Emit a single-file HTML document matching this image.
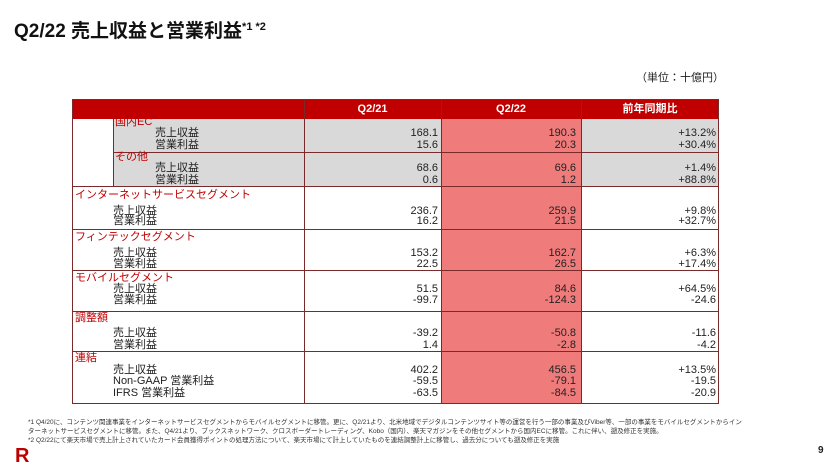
<!DOCTYPE html>
<html><head><meta charset="utf-8"><style>
body{margin:0;width:837px;height:471px;background:#fff;position:relative;overflow:hidden;font-family:"Liberation Sans","Noto Sans CJK JP",sans-serif;color:#222}
.a{position:absolute;white-space:nowrap}
.t{font-size:11px;line-height:12px}
.r{text-align:right}
.red{color:#c00000}
.b{position:absolute;box-sizing:border-box}
.h{color:#fff;font-weight:bold;font-size:11px;line-height:12px;text-align:center;top:103px}
</style></head><body>
<div class="a" style="left:14px;top:16px;font-size:19px;font-weight:bold;color:#111">Q2/22 売上収益と営業利益<span style="font-size:11px;vertical-align:7px">*1 *2</span></div>
<div class="a" style="left:636px;top:69px;font-size:11px">（単位：十億円）</div>

<div class="b" style="left:441px;top:119px;width:140px;height:284px;background:#f07b7b"></div>
<div class="b" style="left:113px;top:119px;width:328px;height:67px;background:#d9d9d9"></div>
<div class="b" style="left:581px;top:119px;width:138px;height:67px;background:#d9d9d9"></div>
<div class="b" style="left:72px;top:99px;width:647px;height:20px;background:#c00000"></div>
<div class="a h" style="left:304px;width:137px">Q2/21</div>
<div class="a h" style="left:441px;width:140px">Q2/22</div>
<div class="a h" style="left:581px;width:138px">前年同期比</div>
<div class="b" style="left:72px;top:99px;width:647px;height:305px;border:1px solid #7a2a2a"></div>
<div class="b" style="left:304px;top:99px;width:1px;height:305px;background:#7a2a2a"></div>
<div class="b" style="left:441px;top:99px;width:1px;height:305px;background:#7a2a2a"></div>
<div class="b" style="left:581px;top:99px;width:1px;height:305px;background:#7a2a2a"></div>
<div class="b" style="left:113px;top:119px;width:1px;height:67px;background:#7a2a2a"></div>
<div class="b" style="left:113px;top:152px;width:606px;height:1px;background:#7a2a2a"></div>
<div class="b" style="left:72px;top:186px;width:647px;height:1px;background:#7a2a2a"></div>
<div class="b" style="left:72px;top:229px;width:647px;height:1px;background:#7a2a2a"></div>
<div class="b" style="left:72px;top:270px;width:647px;height:1px;background:#7a2a2a"></div>
<div class="b" style="left:72px;top:311px;width:647px;height:1px;background:#7a2a2a"></div>
<div class="b" style="left:72px;top:351px;width:647px;height:1px;background:#7a2a2a"></div>

<div class="a t red" style="left:115px;top:116px">国内EC</div>
<div class="a t" style="left:155px;top:127px">売上収益</div>
<div class="a t" style="left:155px;top:139px">営業利益</div>
<div class="a t r" style="right:399px;top:127px">168.1</div><div class="a t r" style="right:399px;top:139px">15.6</div>
<div class="a t r" style="right:261px;top:127px">190.3</div><div class="a t r" style="right:261px;top:139px">20.3</div>
<div class="a t r" style="right:121px;top:127px">+13.2%</div><div class="a t r" style="right:121px;top:139px">+30.4%</div>
<div class="a t red" style="left:115px;top:151px">その他</div>
<div class="a t" style="left:155px;top:162px">売上収益</div>
<div class="a t" style="left:155px;top:174px">営業利益</div>
<div class="a t r" style="right:399px;top:162px">68.6</div><div class="a t r" style="right:399px;top:174px">0.6</div>
<div class="a t r" style="right:261px;top:162px">69.6</div><div class="a t r" style="right:261px;top:174px">1.2</div>
<div class="a t r" style="right:121px;top:162px">+1.4%</div><div class="a t r" style="right:121px;top:174px">+88.8%</div>
<div class="a t red" style="left:75px;top:189px">インターネットサービスセグメント</div>
<div class="a t" style="left:113px;top:205px">売上収益</div>
<div class="a t" style="left:113px;top:215px">営業利益</div>
<div class="a t r" style="right:399px;top:205px">236.7</div><div class="a t r" style="right:399px;top:215px">16.2</div>
<div class="a t r" style="right:261px;top:205px">259.9</div><div class="a t r" style="right:261px;top:215px">21.5</div>
<div class="a t r" style="right:121px;top:205px">+9.8%</div><div class="a t r" style="right:121px;top:215px">+32.7%</div>
<div class="a t red" style="left:75px;top:231px">フィンテックセグメント</div>
<div class="a t" style="left:113px;top:247px">売上収益</div>
<div class="a t" style="left:113px;top:258px">営業利益</div>
<div class="a t r" style="right:399px;top:247px">153.2</div><div class="a t r" style="right:399px;top:258px">22.5</div>
<div class="a t r" style="right:261px;top:247px">162.7</div><div class="a t r" style="right:261px;top:258px">26.5</div>
<div class="a t r" style="right:121px;top:247px">+6.3%</div><div class="a t r" style="right:121px;top:258px">+17.4%</div>
<div class="a t red" style="left:75px;top:272px">モバイルセグメント</div>
<div class="a t" style="left:113px;top:283px">売上収益</div>
<div class="a t" style="left:113px;top:294px">営業利益</div>
<div class="a t r" style="right:399px;top:283px">51.5</div><div class="a t r" style="right:399px;top:294px">-99.7</div>
<div class="a t r" style="right:261px;top:283px">84.6</div><div class="a t r" style="right:261px;top:294px">-124.3</div>
<div class="a t r" style="right:121px;top:283px">+64.5%</div><div class="a t r" style="right:121px;top:294px">-24.6</div>
<div class="a t red" style="left:75px;top:312px">調整額</div>
<div class="a t" style="left:113px;top:327px">売上収益</div>
<div class="a t" style="left:113px;top:339px">営業利益</div>
<div class="a t r" style="right:399px;top:327px">-39.2</div><div class="a t r" style="right:399px;top:339px">1.4</div>
<div class="a t r" style="right:261px;top:327px">-50.8</div><div class="a t r" style="right:261px;top:339px">-2.8</div>
<div class="a t r" style="right:121px;top:327px">-11.6</div><div class="a t r" style="right:121px;top:339px">-4.2</div>
<div class="a t red" style="left:75px;top:352px">連結</div>
<div class="a t" style="left:113px;top:364px">売上収益</div>
<div class="a t" style="left:113px;top:375px">Non-GAAP 営業利益</div>
<div class="a t" style="left:113px;top:387px">IFRS 営業利益</div>
<div class="a t r" style="right:399px;top:364px">402.2</div><div class="a t r" style="right:399px;top:375px">-59.5</div><div class="a t r" style="right:399px;top:387px">-63.5</div>
<div class="a t r" style="right:261px;top:364px">456.5</div><div class="a t r" style="right:261px;top:375px">-79.1</div><div class="a t r" style="right:261px;top:387px">-84.5</div>
<div class="a t r" style="right:121px;top:364px">+13.5%</div><div class="a t r" style="right:121px;top:375px">-19.5</div><div class="a t r" style="right:121px;top:387px">-20.9</div>

<div class="a" style="left:28px;top:418px;font-size:6.5px;line-height:9px;color:#333">*1 Q4/20に、コンテンツ関連事業をインターネットサービスセグメントからモバイルセグメントに移管。更に、Q2/21より、北米地域でデジタルコンテンツサイト等の運営を行う一部の事業及びViber等、一部の事業をモバイルセグメントからイン<br>ターネットサービスセグメントに移管。また、Q4/21より、ブックスネットワーク、クロスボーダートレーディング、Kobo（国内）、楽天マガジンをその他セグメントから国内ECに移管。これに伴い、遡及修正を実施。<br>*2 Q2/22にて楽天市場で売上計上されていたカード会員獲得ポイントの処理方法について、楽天市場にて計上していたものを連結調整計上に移管し、過去分についても遡及修正を実施</div>
<div class="a" style="left:15px;top:445px;font-size:20px;font-weight:bold;color:#bf0000">R</div>
<div class="a" style="left:818px;top:445px;font-size:10px;font-weight:bold">9</div>
</body></html>
